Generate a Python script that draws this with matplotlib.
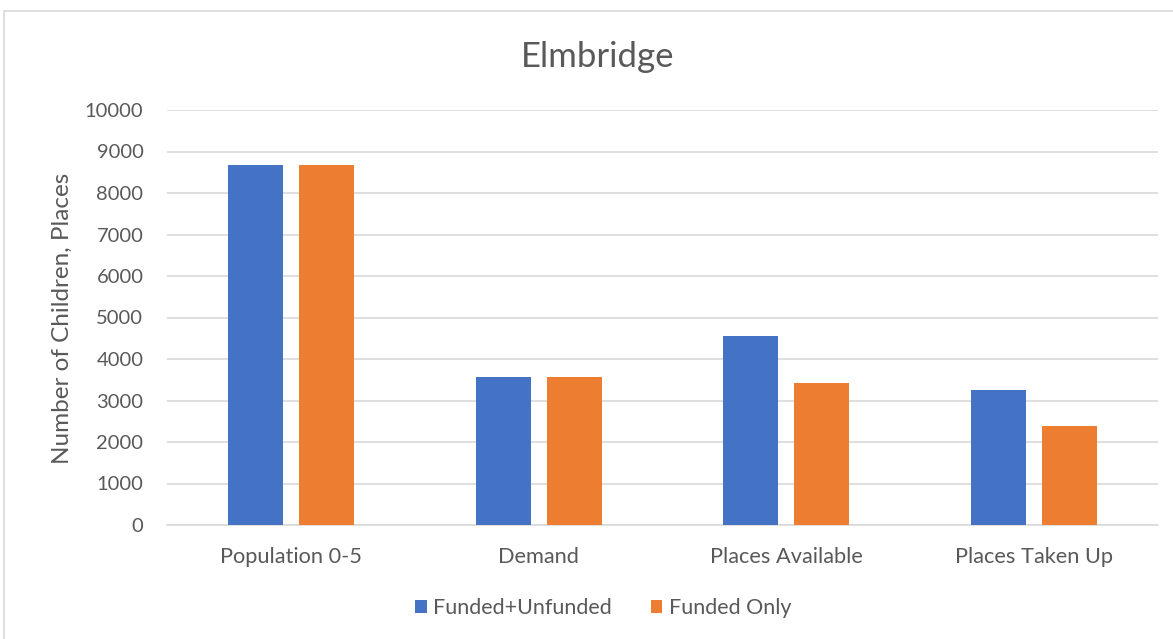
import matplotlib.pyplot as plt
import numpy as np
from matplotlib.patches import Rectangle

categories = ['Population 0-5', 'Demand', 'Places Available', 'Places Taken Up']
funded_unfunded = [8680, 3575, 4555, 3255]
funded_only = [8680, 3575, 3430, 2390]
series_names = ['Funded+Unfunded', 'Funded Only']
colors = ['#4472C4', '#ED7D31']

plt.rcParams['font.family'] = ['Lato', 'DejaVu Sans']
text_color = '#595959'

fig = plt.figure(figsize=(11.73, 6.39), dpi=100)
W, H = 1173, 639
ax = fig.add_axes([167 / W, 1 - 525 / H, (1158 - 167) / W, (525 - 110) / H])

# outer chart border like the Excel frame
fig.patches.append(Rectangle((4 / W, -0.05), 1.1, 1 - 11 / H + 0.05,
                             transform=fig.transFigure, fill=False,
                             edgecolor='#d9d9d9', linewidth=1.2))

x = np.arange(len(categories))
width = 0.222
offset = 0.143
ax.bar(x - offset, funded_unfunded, width, color=colors[0], label=series_names[0], zorder=3)
ax.bar(x + offset, funded_only, width, color=colors[1], label=series_names[1], zorder=3)

ax.set_xlim(-0.5, len(categories) - 0.5)
ax.set_ylim(0, 10000)
ax.set_yticks(range(0, 10001, 1000))
ax.set_xticks(x)
ax.set_xticklabels(categories)
ax.tick_params(axis='both', length=0, colors=text_color)
ax.tick_params(axis='x', pad=16, labelsize=15.7)
ax.tick_params(axis='y', pad=17, labelsize=14.5)
ax.grid(axis='y', color='#d9d9d9', linewidth=1.2, zorder=0)
for side in ['top', 'right', 'left']:
    ax.spines[side].set_visible(False)
ax.spines['bottom'].set_color('#d9d9d9')
ax.spines['bottom'].set_linewidth(1.2)

fig.text(598 / W, 1 - 57 / H, 'Elmbridge', ha='center', va='center', fontsize=25, color=text_color)
fig.text(62 / W, 1 - 318 / H, 'Number of Children, Places', rotation=90,
         ha='center', va='center', fontsize=17.5, color=text_color)

fig.legend(loc='center', bbox_to_anchor=(603 / W, 1 - 608 / H), ncol=2, frameon=False,
           fontsize=15.5, labelcolor=text_color, handlelength=0.55, handleheight=0.55,
           handletextpad=0.3, columnspacing=1.8)

fig.savefig('out.png', dpi=100, facecolor='white')
